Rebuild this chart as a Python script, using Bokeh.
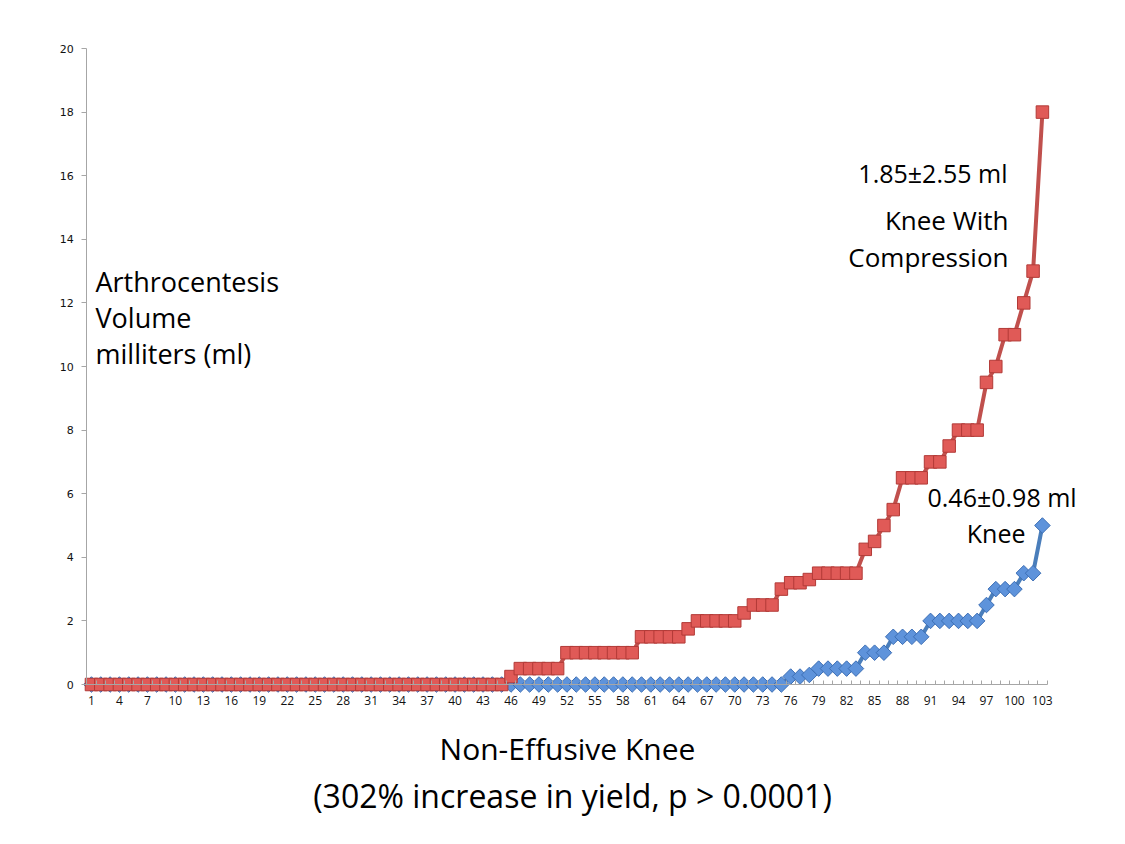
from bokeh.plotting import figure
from bokeh.models import Range1d, FixedTicker, Label, LinearAxis
from bokeh.embed import file_html
from bokeh.resources import INLINE

# ---------------- data ----------------
patients = list(range(1, 104))

knee = [
    0, 0, 0, 0, 0, 0, 0, 0, 0, 0,
    0, 0, 0, 0, 0, 0, 0, 0, 0, 0,
    0, 0, 0, 0, 0, 0, 0, 0, 0, 0,
    0, 0, 0, 0, 0, 0, 0, 0, 0, 0,
    0, 0, 0, 0, 0, 0, 0, 0, 0, 0,
    0, 0, 0, 0, 0, 0, 0, 0, 0, 0,
    0, 0, 0, 0, 0, 0, 0, 0, 0, 0,
    0, 0, 0, 0, 0, 0.25, 0.25, 0.3, 0.5, 0.5,
    0.5, 0.5, 0.5, 1.0, 1.0, 1.0, 1.5, 1.5, 1.5, 1.5,
    2.0, 2.0, 2.0, 2.0, 2.0, 2.0, 2.5, 3.0, 3.0, 3.0,
    3.5, 3.5, 5.0,
]

knee_compression = [
    0, 0, 0, 0, 0, 0, 0, 0, 0, 0,
    0, 0, 0, 0, 0, 0, 0, 0, 0, 0,
    0, 0, 0, 0, 0, 0, 0, 0, 0, 0,
    0, 0, 0, 0, 0, 0, 0, 0, 0, 0,
    0, 0, 0, 0, 0, 0.25, 0.5, 0.5, 0.5, 0.5,
    0.5, 1.0, 1.0, 1.0, 1.0, 1.0, 1.0, 1.0, 1.0, 1.5,
    1.5, 1.5, 1.5, 1.5, 1.75, 2.0, 2.0, 2.0, 2.0, 2.0,
    2.25, 2.5, 2.5, 2.5, 3.0, 3.2, 3.2, 3.3, 3.5, 3.5,
    3.5, 3.5, 3.5, 4.25, 4.5, 5.0, 5.5, 6.5, 6.5, 6.5,
    7.0, 7.0, 7.5, 8.0, 8.0, 8.0, 9.5, 10.0, 11.0, 11.0,
    12.0, 13.0, 18.0,
]

x_tick_values = [1, 4, 7, 10, 13, 16, 19, 22, 25, 28, 31, 34, 37, 40, 43, 46, 49, 52,
                 55, 58, 61, 64, 67, 70, 73, 76, 79, 82, 85, 88, 91, 94, 97, 100, 103]
y_tick_values = [0, 2, 4, 6, 8, 10, 12, 14, 16, 18, 20]

y_axis_title = ["Arthrocentesis", "Volume", "milliters (ml)"]
compression_note = ["1.85\u00b12.55 ml", "Knee With", "Compression"]
knee_note = ["0.46\u00b10.98 ml", "Knee"]
x_axis_title = ["Non-Effusive Knee", "(302% increase in yield, p > 0.0001)"]

# ---------------- figure ----------------
W, H = 1117, 836
# frame covers whole canvas; ranges chosen so the plot area sits where the original does
X0_PX, X_SCALE = 86.3, 9.323     # px of x=0.5 and px per category
Y0_PX, Y_SCALE = 684.0, 31.8     # px of y=0 and px per ml

p = figure(
    width=W, height=H, min_border=0,
    x_range=Range1d(0.5 - X0_PX / X_SCALE, 0.5 + (W - X0_PX) / X_SCALE),
    y_range=Range1d(-(H - Y0_PX) / Y_SCALE, Y0_PX / Y_SCALE),
    x_axis_location=None, y_axis_location=None,
    output_backend="svg", toolbar_location=None,
)
p.grid.visible = False
p.outline_line_color = None
p.background_fill_color = "white"
p.border_fill_color = "white"

AXIS_GRAY = "#A6A6A6"

xa = LinearAxis(fixed_location=0, bounds=(0.5, 103.5))
xa.ticker = FixedTicker(ticks=x_tick_values, minor_ticks=[v + 0.5 for v in range(0, 104)])
xa.axis_line_color = AXIS_GRAY
xa.major_tick_in = 0
xa.major_tick_out = 0
xa.minor_tick_line_color = AXIS_GRAY
xa.minor_tick_in = 4
xa.minor_tick_out = 0
xa.major_label_standoff = 11
xa.major_label_text_font = "Open Sans"
xa.major_label_text_font_size = "12px"
xa.major_label_text_color = "#111111"
p.add_layout(xa, "below")

ya = LinearAxis(fixed_location=0.5, bounds=(0, 20))
ya.ticker = FixedTicker(ticks=y_tick_values)
ya.axis_line_color = AXIS_GRAY
ya.major_tick_line_color = AXIS_GRAY
ya.major_tick_in = 0
ya.major_tick_out = 5
ya.minor_tick_line_color = None
ya.major_label_standoff = 8
ya.major_label_text_font = "DejaVu Sans"
ya.major_label_text_font_size = "11px"
ya.major_label_text_color = "#111111"
p.add_layout(ya, "left")

# blue series (Knee) - diamonds drawn as 45-degree squares
p.line(patients, knee, line_color="#4A7EBB", line_width=4, line_join="round")
p.scatter(patients, knee, marker="square", angle=45, angle_units="deg", size=11,
          fill_color="#5E93DB", line_color="#3D6FB5", line_width=1)

# red series (Knee with compression)
p.line(patients, knee_compression, line_color="#C0504D", line_width=4, line_join="round")
p.scatter(patients, knee_compression, marker="square", size=12.5,
          fill_color="#E05A57", line_color="#B23A37", line_width=1)

# ---------------- texts ----------------
FONT = "Open Sans"

def add_label(text, px, py, align, size):
    p.add_layout(Label(x=px, y=H - py, x_units="screen", y_units="screen", text=text,
                       text_font=FONT, text_font_size=size, text_color="black",
                       text_align=align, text_baseline="alphabetic"))

for t, py in zip(y_axis_title, [281, 317, 353]):
    add_label(t, 95, py, "left", "27px")

add_label(compression_note[0], 1007, 172, "right", "25px")
add_label(compression_note[1], 1008, 219, "right", "26px")
add_label(compression_note[2], 1008, 256, "right", "26px")

add_label(knee_note[0], 927, 496, "left", "25px")
add_label(knee_note[1], 1025, 532, "right", "25px")

add_label(x_axis_title[0], 567, 748, "center", "30px")
add_label(x_axis_title[1], 572, 795, "center", "32px")

open("out.html", "w").write(file_html(p, INLINE))
